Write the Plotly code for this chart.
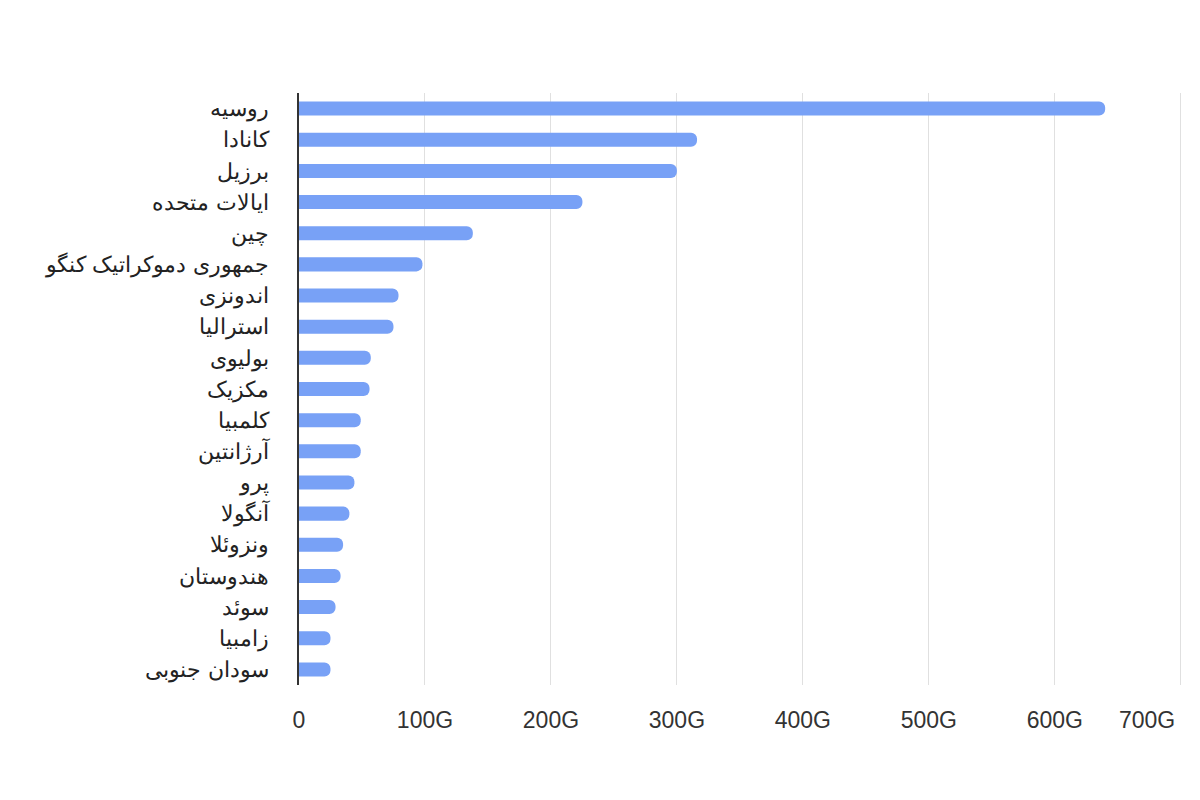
import plotly.graph_objects as go

countries = ["روسیه", "کانادا", "برزیل", "ایالات متحده", "چین", "جمهوری دموکراتیک کنگو",
             "اندونزی", "استرالیا", "بولیوی", "مکزیک", "کلمبیا", "آرژانتین", "پرو",
             "آنگولا", "ونزوئلا", "هندوستان", "سوئد", "زامبیا", "سودان جنوبی"]
values_g = [640, 316, 300, 225, 138, 98, 79, 75, 57, 56, 49, 49, 44, 40, 35, 33, 29, 25, 25]
tick_vals = [0, 100, 200, 300, 400, 500, 600, 700]
tick_text = ["0", "100G", "200G", "300G", "400G", "500G", "600G", ""]

FONT = "Liberation Sans, Arial, sans-serif"

fig = go.Figure(go.Bar(
    x=values_g, y=countries, orientation="h",
    marker=dict(color="#78a1f6", line=dict(width=0)),
    hoverinfo="x+y",
))
fig.update_layout(
    width=1184, height=784,
    paper_bgcolor="white", plot_bgcolor="white",
    margin=dict(l=291, r=10, t=85, b=107),
    bargap=0.55, barcornerradius=6,
    font=dict(family=FONT, color="#333333"),
    showlegend=False,
)
fig.update_xaxes(
    range=[0, 701], tickvals=tick_vals, ticktext=tick_text,
    showgrid=True, gridcolor="#e0e0e0", gridwidth=1,
    zeroline=False, showline=False,
    tickfont=dict(size=23, color="#333333"),
    ticks="outside", ticklen=14, tickcolor="rgba(0,0,0,0)",
)
fig.update_yaxes(
    autorange="reversed", showgrid=False, zeroline=False,
    showline=True, linecolor="#333333", linewidth=2,
    tickfont=dict(size=22, color="#222222"),
    ticks="outside", ticklen=24, tickcolor="rgba(0,0,0,0)",
)
fig.add_annotation(x=700, xref="x", y=0, yref="paper", yshift=-35,
                   text="700G", showarrow=False, xanchor="right", yanchor="middle",
                   xshift=-4, font=dict(size=23, color="#333333", family=FONT))
fig.write_html("out.html")
